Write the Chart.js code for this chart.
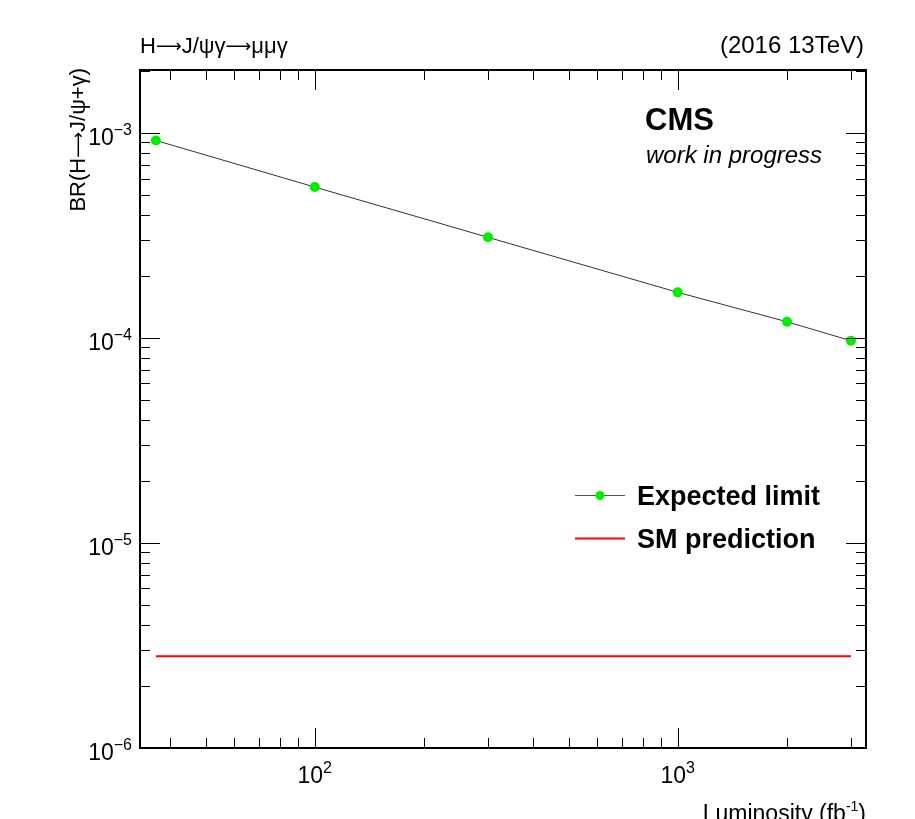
<!DOCTYPE html>
<html>
<head>
<meta charset="utf-8">
<script src="https://cdn.jsdelivr.net/npm/chart.js@4"></script>
<style>
  html, body { margin: 0; padding: 0; background: #fff; }
  #plot { display: block; }
</style>
</head>
<body>
<canvas id="plot" width="915" height="819"></canvas>
<script>
// luminosity points (fb^-1) and expected BR limits
const lumi = [36.5, 100, 300, 1000, 2000, 3000];
const expLimit = [9.2e-4, 5.45e-4, 3.1e-4, 1.67e-4, 1.2e-4, 9.7e-5];
const smLumi = [36.5, 3000];
const smValue = [2.8e-6, 2.8e-6];
const xRange = [33, 3300];
const yRange = [1e-6, 2.03e-3];

const FONT = '"Liberation Sans", Arial, Helvetica, sans-serif';
const ARROW = '"DejaVu Sans", sans-serif';

// draw text made of runs with different fonts
function drawRuns(ctx, runs, x, y, align) {
  let total = 0;
  runs.forEach(r => { ctx.font = r.f; r.w = ctx.measureText(r.t).width; total += r.w; });
  let cx = align === 'right' ? x - total : (align === 'center' ? x - total / 2 : x);
  ctx.textAlign = 'left';
  ctx.textBaseline = 'alphabetic';
  runs.forEach(r => {
    ctx.font = r.f;
    ctx.fillText(r.t, cx, y + (r.dy || 0));
    cx += r.w;
  });
}

// long thin arrow like ROOT's #rightarrow
function withArrows(str, size) {
  return str.split('\u2192').flatMap((s, i) => {
    const out = [];
    if (i > 0) out.push({ t: '\u27f6', f: Math.round(size * 0.8) + 'px ' + ARROW, dy: -1 });
    if (s) out.push({ t: s, f: size + 'px ' + FONT });
    return out;
  });
}

function drawPow(ctx, base, exp, x, y, align, size) {
  drawRuns(ctx, [
    { t: base, f: size + 'px ' + FONT },
    { t: exp, f: Math.round(size * 0.68) + 'px ' + FONT, dy: -size * 0.45 }
  ], x, y, align);
}

const rootStyle = {
  id: 'rootStyle',
  afterDraw(chart) {
    const ctx = chart.ctx;
    const a = chart.chartArea;
    const xs = chart.scales.x;
    const ys = chart.scales.y;
    ctx.save();
    ctx.fillStyle = '#000';
    ctx.strokeStyle = '#000';

    // ticks
    ctx.lineWidth = 1;
    ctx.beginPath();
    for (let k = 1; k <= 4; k++) {
      for (let m = 1; m <= 9; m++) {
        const v = m * Math.pow(10, k);
        if (v < xs.min || v > xs.max) continue;
        const px = Math.round(xs.getPixelForValue(v)) + 0.5;
        const len = m === 1 ? 20 : 10;
        ctx.moveTo(px, a.bottom); ctx.lineTo(px, a.bottom - len);
        ctx.moveTo(px, a.top); ctx.lineTo(px, a.top + len);
      }
    }
    for (let k = -7; k <= -2; k++) {
      for (let m = 1; m <= 9; m++) {
        const v = m * Math.pow(10, k);
        if (v < ys.min * 0.999 || v > ys.max) continue;
        const py = Math.round(ys.getPixelForValue(v)) + 0.5;
        const len = m === 1 ? 20 : 10;
        ctx.moveTo(a.left, py); ctx.lineTo(a.left + len, py);
        ctx.moveTo(a.right, py); ctx.lineTo(a.right - len, py);
      }
    }
    ctx.stroke();

    // frame
    ctx.lineWidth = 2;
    ctx.strokeRect(a.left, a.top, a.right - a.left, a.bottom - a.top);

    // tick labels
    [1e-6, 1e-5, 1e-4, 1e-3].forEach(v => {
      const py = ys.getPixelForValue(v);
      drawPow(ctx, '10', '\u2212' + Math.round(-Math.log10(v)), a.left - 8, py + 12, 'right', 23);
    });
    [100, 1000].forEach(v => {
      const px = xs.getPixelForValue(v);
      drawPow(ctx, '10', String(Math.round(Math.log10(v))), px, a.bottom + 35, 'center', 23);
    });

    // axis titles
    ctx.save();
    ctx.translate(85, a.top - 2);
    ctx.rotate(-Math.PI / 2);
    drawRuns(ctx, withArrows('BR(H\u2192J/\u03c8+\u03b3)', 22), 0, 0, 'right');
    ctx.restore();

    drawRuns(ctx, [
      { t: 'Luminosity (fb', f: '23px ' + FONT },
      { t: '-1', f: '14px ' + FONT, dy: -10 },
      { t: ')', f: '23px ' + FONT }
    ], a.right, 821, 'right');

    // top labels
    drawRuns(ctx, withArrows('H\u2192J/\u03c8\u03b3\u2192\u03bc\u03bc\u03b3', 22), a.left, 53, 'left');
    ctx.font = '24px ' + FONT;
    ctx.textAlign = 'right';
    ctx.fillText('(2016 13TeV)', a.right - 2, 53);

    // CMS label
    ctx.textAlign = 'left';
    ctx.font = 'bold 31px ' + FONT;
    ctx.fillText('CMS', 645, 130);
    ctx.font = 'italic 24px ' + FONT;
    ctx.fillText('work in progress', 646, 163);

    // legend
    const ds = chart.data.datasets;
    const rows = [495, 538];
    ds.forEach((d, i) => {
      const y = rows[i];
      ctx.strokeStyle = i === 0 ? '#555' : d.borderColor;
      ctx.lineWidth = d.borderWidth;
      ctx.beginPath();
      ctx.moveTo(575, y + 0.5); ctx.lineTo(625, y + 0.5);
      ctx.stroke();
      if (d.pointRadius > 0) {
        ctx.fillStyle = d.pointBackgroundColor;
        ctx.beginPath();
        ctx.arc(600, y + 0.5, 4.5, 0, Math.PI * 2);
        ctx.fill();
      }
      ctx.fillStyle = '#000';
      ctx.font = 'bold 27px ' + FONT;
      ctx.textAlign = 'left';
      ctx.fillText(d.label, 637, y + 10);
    });
    ctx.restore();
  }
};

new Chart(document.getElementById('plot').getContext('2d'), {
  type: 'line',
  data: {
    datasets: [{
      label: 'Expected limit',
      data: lumi.map((x, i) => ({ x: x, y: expLimit[i] })),
      borderColor: '#333',
      borderWidth: 1,
      pointRadius: 5,
      pointBackgroundColor: '#00ee00',
      pointBorderColor: '#00ee00',
      pointBorderWidth: 0,
      tension: 0
    }, {
      label: 'SM prediction',
      data: smLumi.map((x, i) => ({ x: x, y: smValue[i] })),
      borderColor: '#ff0000',
      borderWidth: 2,
      pointRadius: 0
    }]
  },
  options: {
    responsive: false,
    animation: false,
    layout: {
      padding: { left: 140, right: 49, top: 70, bottom: 71 }
    },
    scales: {
      x: { type: 'logarithmic', min: xRange[0], max: xRange[1], display: false },
      y: { type: 'logarithmic', min: yRange[0], max: yRange[1], display: false }
    },
    plugins: {
      legend: { display: false },
      tooltip: { enabled: false }
    }
  },
  plugins: [rootStyle]
});
</script>
</body>
</html>
